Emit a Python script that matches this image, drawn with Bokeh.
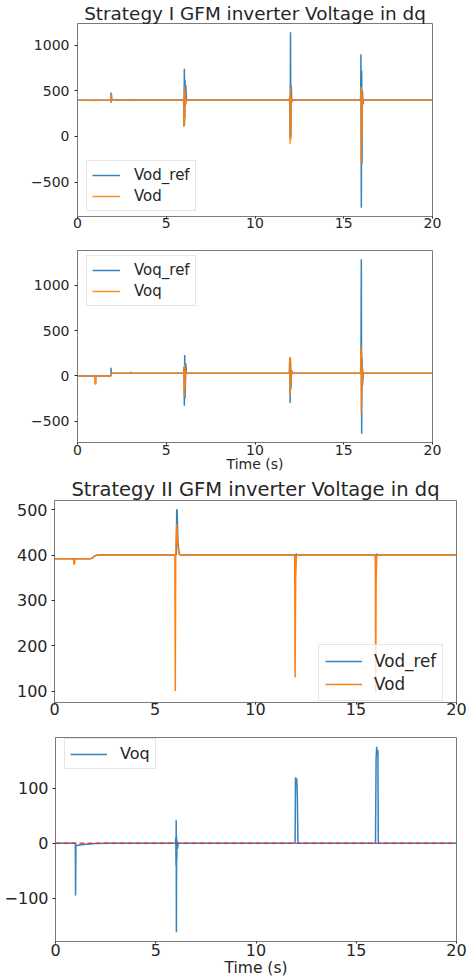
from bokeh.plotting import figure
from bokeh.layouts import column, row
from bokeh.models import FixedTicker, Span, Range1d, Spacer
from bokeh.embed import file_html
from bokeh.resources import INLINE

# ---------------- data ----------------
# Strategy I, d-axis
s1_vodref_t = [0, 1.88, 1.89, 1.90, 1.91, 1.93, 5.98, 6.00, 6.02, 6.04, 6.06, 6.08, 6.10, 6.14,
               11.94, 11.96, 11.98, 12.00, 12.02, 12.04, 12.07, 12.10,
               15.95, 15.97, 15.99, 16.01, 16.03, 16.05, 16.08, 16.12, 20]
s1_vodref_v = [395, 395, 480, 370, 460, 400, 400, 110, 740, 200, 620, 350, 560, 400,
               400, 430, -20, 1140, 0, 560, 380, 400,
               400, 900, -780, 720, -300, 500, 350, 400, 400]
s1_vod_t = [0, 0.98, 1.0, 1.02, 1.88, 1.89, 1.90, 1.91, 1.93, 2.95, 3.0, 3.05,
            5.98, 6.00, 6.02, 6.04, 6.06, 6.10, 6.14,
            11.94, 11.96, 11.98, 12.00, 12.02, 12.04, 12.07, 12.10,
            15.95, 15.97, 15.99, 16.01, 16.03, 16.05, 16.08, 16.12, 20]
s1_vod_v = [395, 395, 388, 395, 395, 460, 380, 450, 400, 400, 406, 400,
            400, 110, 550, 130, 500, 350, 400,
            400, 440, -80, 550, -40, 420, 370, 400,
            400, 540, -300, 520, -40, 450, 380, 400, 400]

# Strategy I, q-axis
s1_voqref_t = [0, 1.88, 1.89, 1.90, 1.92, 2.95, 3.0, 3.05,
               5.98, 6.00, 6.02, 6.04, 6.06, 6.10, 6.14,
               11.94, 11.96, 11.98, 12.00, 12.02, 12.06, 12.10,
               15.95, 15.97, 15.99, 16.01, 16.03, 16.06, 16.10, 20]
s1_voqref_v = [0, 0, 90, 30, 30, 30, 40, 30,
               30, 100, -330, 230, -250, 140, 30,
               30, 200, -300, 150, -150, 60, 30,
               30, 200, 1290, -640, 200, -100, 30, 30]
s1_voq_t = [0, 0.97, 0.98, 1.04, 1.05, 1.88, 1.90, 1.92, 2.95, 3.0, 3.05,
            5.98, 6.00, 6.02, 6.04, 6.06, 6.10, 6.14,
            11.94, 11.96, 11.98, 12.00, 12.02, 12.06, 12.10,
            15.95, 15.97, 15.99, 16.01, 16.03, 16.06, 16.10, 20]
s1_voq_v = [0, 0, -90, -90, 0, 0, 30, 30, 30, 40, 30,
            30, 90, -230, 130, -150, 60, 30,
            30, 210, -220, 200, -100, 60, 30,
            30, 330, -420, 260, -150, 80, 30, 30]

# Strategy II, d-axis
s2_vodref_t = [0, 1.8, 1.9, 2.0, 2.1, 2.2, 2.4, 5.99, 6.00, 6.02, 6.06, 6.08, 6.10, 6.14, 6.20, 6.30,
               11.97, 11.99, 12.02, 12.06, 12.2, 15.97, 15.99, 16.02, 16.06, 16.2, 20]
s2_vodref_v = [392, 392, 394, 398, 399.5, 400, 400, 400, 400, 400, 400, 500, 500, 430, 402, 400,
               400, 375, 403, 400, 400, 400, 365, 403, 400, 400, 400]
s2_vod_t = [0, 0.95, 0.96, 1.0, 1.01, 1.8, 1.9, 2.0, 2.1, 2.2, 2.4,
            5.99, 6.01, 6.03, 6.08, 6.12, 6.18, 6.25,
            11.95, 11.97, 12.0, 12.03, 12.08,
            15.96, 15.98, 16.0, 16.03, 16.08, 20]
s2_vod_v = [392, 392, 380, 380, 392, 392, 394, 398, 399.5, 400, 400,
            400, 100, 400, 468, 430, 405, 400,
            400, 130, 350, 398, 400,
            400, 95, 340, 398, 400, 400]

# Strategy II, q-axis
s2_voq_t = [0, 0.99, 1.0, 1.02, 1.04, 1.2, 1.4, 1.7, 2.0, 2.5,
            5.98, 6.00, 6.01, 6.02, 6.03, 6.04, 6.05, 6.06, 6.08, 6.12,
            11.95, 11.97, 12.0, 12.03, 12.06, 12.09, 12.12,
            15.96, 15.99, 16.02, 16.05, 16.08, 16.10, 16.12, 20]
s2_voq_v = [0, 0, -95, -5, -4, -3, -2, -1, -0.5, 0,
            0, 10, -40, 42, -162, 12, -30, 5, -10, 0,
            0, 120, 115, 118, 90, 5, 0,
            0, 155, 176, 160, 170, 5, 0, 0]
s2_voq_setpoint = 0

x_ticks = [0, 5, 10, 15, 20]
y_ticks_1 = [-500, 0, 500, 1000]
y_ticks_2 = [-500, 0, 500, 1000]
y_ticks_3 = [100, 200, 300, 400, 500]
y_ticks_4 = [-100, 0, 100]

title_1 = "Strategy I GFM inverter Voltage in dq"
title_3 = "Strategy II GFM inverter Voltage in dq"
x_label = "Time (s)"

BLUE = "#1f77b4"
ORANGE = "#ff7f0e"
FONT = "DejaVu Sans"
TXT = "#262626"
SPINE = "#7a7a7a"


def yr(*series):
    lo = min(min(s) for s in series)
    hi = max(max(s) for s in series)
    m = 0.05 * (hi - lo)
    return Range1d(lo - m, hi + m)


def make(width, height, left, right, top, bottom, yrange, yticks, fs, title=None, tfs=None,
         xlabel=None, xlfs=None, x_standoff=-1, xl_standoff=0, y_standoff=5):
    p = figure(width=width, height=height, output_backend="svg", toolbar_location=None,
               x_range=Range1d(0, 20), y_range=yrange,
               min_border_left=left, min_border_right=right,
               min_border_top=top, min_border_bottom=bottom)
    p.background_fill_color = "white"
    p.border_fill_color = "white"
    p.outline_line_color = SPINE
    p.outline_line_width = 1
    p.grid.visible = False
    for ax, ticks in ((p.xaxis[0], x_ticks), (p.yaxis[0], yticks)):
        ax.ticker = FixedTicker(ticks=ticks)
        ax.major_label_overrides = {t: ("\u2212" + str(abs(t)) if t < 0 else str(t)) for t in ticks}
        ax.major_label_text_font = FONT
        ax.major_label_text_font_size = f"{fs}px"
        ax.major_label_text_color = TXT
        ax.axis_line_color = SPINE
        ax.major_tick_line_color = TXT
        ax.major_tick_in = 0
        ax.minor_tick_line_color = None
    p.yaxis.major_tick_out = 3
    p.xaxis.major_tick_out = 2
    p.xaxis.major_label_standoff = x_standoff
    p.yaxis.major_label_standoff = y_standoff
    if xlabel:
        p.xaxis.axis_label = xlabel
        p.xaxis.axis_label_text_font = FONT
        p.xaxis.axis_label_text_font_size = f"{xlfs}px"
        p.xaxis.axis_label_text_font_style = "normal"
        p.xaxis.axis_label_text_color = TXT
        p.xaxis.axis_label_standoff = xl_standoff
    if title:
        p.title.text = title
        p.title.align = "center"
        p.title.text_font = FONT
        p.title.text_font_size = f"{tfs}px"
        p.title.text_font_style = "normal"
        p.title.text_color = TXT
        p.title.standoff = 0
    return p


def style_legend(p, fs, gw, loc, lh=18, pad=5, spacing=3, standoff=14):
    lg = p.legend[0]
    lg.location = loc
    lg.label_text_font = FONT
    lg.label_text_font_size = f"{fs}px"
    lg.label_text_color = TXT
    lg.glyph_width = gw
    lg.glyph_height = lh
    lg.label_height = lh
    lg.label_standoff = standoff
    lg.padding = pad
    lg.spacing = spacing
    lg.margin = 0
    lg.border_line_color = "#cccccc"
    lg.border_line_width = 1
    lg.background_fill_alpha = 0.8


# Panel 1: frame y 23..216
p1 = make(474, 240, 77, 42, 23, 24, yr(s1_vodref_v, s1_vod_v), y_ticks_1, 14, title_1, 18.4,
          x_standoff=-1)
p1.line(s1_vodref_t, s1_vodref_v, line_color=BLUE, line_width=1.5, line_alpha=0.9, legend_label="Vod_ref")
p1.line(s1_vod_t, s1_vod_v, line_color=ORANGE, line_width=1.5, line_alpha=0.9, legend_label="Vod")
style_legend(p1, 15, 28, (9, 5))

# Panel 2: frame y 250..442
p2 = make(474, 235, 77, 42, 10, 33, yr(s1_voqref_v, s1_voq_v), y_ticks_2, 14, xlabel=x_label,
          xlfs=14, x_standoff=0, xl_standoff=-2)
p2.line(s1_voqref_t, s1_voqref_v, line_color=BLUE, line_width=1.5, line_alpha=0.9, legend_label="Voq_ref")
p2.line(s1_voq_t, s1_voq_v, line_color=ORANGE, line_width=1.5, line_alpha=0.9, legend_label="Voq")
style_legend(p2, 15, 28, (9, 136))

# Panel 3: frame y ~499..702 (shifted 1px right so frames are not aligned with panels above)
p3 = make(472, 247, 53, 17, 0, 20, yr(s2_vodref_v, s2_vod_v), y_ticks_3, 16, title_3, 19.5,
          x_standoff=-2, y_standoff=4)
p3.line(s2_vodref_t, s2_vodref_v, line_color=BLUE, line_width=1.5, line_alpha=0.9, legend_label="Vod_ref")
p3.line(s2_vod_t, s2_vod_v, line_color=ORANGE, line_width=1.5, line_alpha=1.0, legend_label="Vod")
style_legend(p3, 16.8, 37, (264, 1), lh=20, pad=6, spacing=3, standoff=12)

# Panel 4: frame y 737..941
p4 = make(472, 258, 53, 17, 15, 39, yr(s2_voq_v), y_ticks_4, 16, xlabel=x_label, xlfs=15.5,
          x_standoff=0, xl_standoff=0, y_standoff=4)
p4.line(s2_voq_t, s2_voq_v, line_color=BLUE, line_width=1.5, line_alpha=0.9, legend_label="Voq")
p4.add_layout(Span(location=s2_voq_setpoint, dimension="width", line_color="#e8262e",
                   line_alpha=0.85, line_dash="5 3", line_width=1.5))
style_legend(p4, 16, 37, (9, 172), lh=18, pad=5, standoff=13)

layout = column(
    p1, p2,
    row(Spacer(width=1, height=247), p3, spacing=0),
    row(Spacer(width=1, height=258), p4, spacing=0),
    spacing=0,
)
open("out.html", "w").write(file_html(layout, INLINE))
